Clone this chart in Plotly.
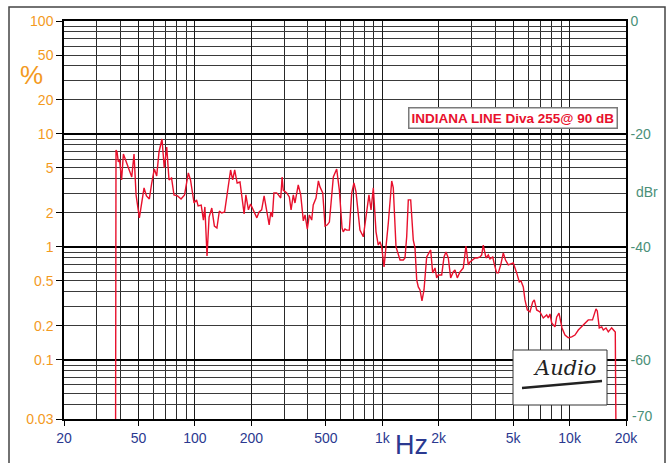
import math
import plotly.graph_objects as go

# ---- data (frequency in Hz, distortion in %) ----
freq_hz = [37.7, 37.9, 38.4, 39.0, 39.6, 40.6, 41.5, 42.9, 44.2, 46.0, 47.3, 48.5, 50.5, 51.8, 53.5,
           55.1, 57.1, 58.8, 60.7, 62.5, 64.3, 66.7, 68.6, 70.7, 72.7, 75.0, 77.3, 80.7, 84.3, 88.0,
           92.2, 94.7, 98.9, 102, 104, 108, 111, 113, 116, 119, 123, 127, 131, 135, 139, 144, 148,
           155, 159, 163, 168, 174, 177, 183, 187, 193, 198, 205, 214, 220, 227, 234, 241, 249, 254,
           259, 264, 273, 279, 287, 292, 296, 309, 319, 326, 335, 342, 349, 356, 367, 379, 387, 398,
           408, 420, 428, 443, 456, 465, 481, 495, 509, 522, 548, 571, 590, 610, 619, 632, 646, 667,
           687, 706, 724, 745, 760, 792, 819, 849, 871, 896, 926, 952, 972, 993, 1022, 1047, 1077,
           1123, 1145, 1184, 1218, 1244, 1295, 1322, 1350, 1377, 1418, 1464, 1495, 1527, 1557, 1590,
           1629, 1670, 1726, 1813, 1858, 1912, 1952, 1991, 2076, 2136, 2188, 2251, 2318, 2393, 2444,
           2514, 2599, 2707, 2798, 2878, 2939, 3038, 3126, 3216, 3324, 3394, 3461, 3577, 3681, 3758,
           3885, 3972, 4081, 4163, 4288, 4426, 4548, 4706, 4835, 5004, 5217, 5388, 5503, 5659, 5778,
           5944, 6144, 6351, 6479, 6672, 6948, 7236, 7546, 7694, 7857, 8024, 8356, 8531, 8776, 8940,
           9107, 9448, 9840, 10260, 10680, 11130, 11830, 12580, 13250, 13830, 14050, 14400, 14840,
           15130, 15640, 16090, 16770, 17260, 17530, 17690]
thd_pct = [0.02, 7.22, 6.93, 5.65, 5.89, 3.92, 6.65, 5.65, 5.00, 4.16, 6.65, 2.89, 1.81, 2.35, 3.33,
           2.83, 2.66, 3.68, 4.90, 4.25, 6.93, 9.03, 5.00, 7.67, 3.92, 4.08, 2.89, 2.83, 2.66, 2.89,
           4.52, 3.92, 2.45, 2.61, 2.31, 2.35, 1.73, 2.26, 0.833, 1.84, 2.21, 1.53, 1.47, 2.08, 2.00,
           2.04, 2.71, 4.80, 3.92, 4.80, 3.68, 3.76, 3.01, 1.96, 2.89, 2.13, 2.40, 2.13, 1.81, 2.04,
           2.13, 2.83, 2.21, 1.57, 2.04, 1.84, 3.01, 3.01, 2.89, 2.71, 4.16, 3.19, 3.01, 2.77, 2.13,
           2.89, 2.45, 3.01, 3.54, 2.89, 1.70, 1.92, 1.44, 1.92, 1.73, 2.35, 2.71, 3.84, 3.40, 3.01,
           1.53, 1.57, 1.66, 4.16, 4.90, 3.19, 1.47, 1.36, 1.44, 1.41, 1.41, 3.01, 3.68, 3.07, 1.84,
           1.41, 1.23, 1.84, 2.89, 2.13, 3.33, 1.36, 1.04, 1.11, 1.00, 0.665, 0.98, 1.63, 3.84, 3.33,
           1.00, 0.85, 0.767, 0.767, 0.799, 1.23, 2.61, 2.61, 1.15, 0.98, 0.51, 0.443, 0.416, 0.333,
           0.416, 0.816, 0.941, 0.589, 0.652, 0.532, 0.565, 0.565, 0.816, 0.903, 0.799, 0.532, 0.601,
           0.626, 0.532, 0.601, 0.652, 1.02, 0.693, 0.737, 0.767, 0.799, 0.799, 0.816, 0.85, 1.04,
           0.799, 0.85, 0.783, 0.816, 0.693, 0.589, 0.589, 0.693, 0.885, 0.767, 0.693, 0.707, 0.722,
           0.589, 0.49, 0.50, 0.443, 0.34, 0.277, 0.266, 0.326, 0.34, 0.277, 0.266, 0.235, 0.25,
           0.235, 0.255, 0.213, 0.196, 0.24, 0.26, 0.226, 0.192, 0.166, 0.157, 0.16, 0.166, 0.184,
           0.204, 0.226, 0.226, 0.283, 0.271, 0.192, 0.196, 0.184, 0.192, 0.177, 0.192, 0.184, 0.177,
           0.02]

x_tick_vals = [20, 50, 100, 200, 500, 1000, 2000, 5000, 10000, 20000]
x_tick_text = ["20", "50", "100", "200", "500", "1k", "2k", "5k", "10k", "20k"]
x_minor_vals = [30, 40, 60, 70, 80, 90, 300, 400, 600, 700, 800, 900,
                3000, 4000, 6000, 7000, 8000, 9000]
y_tick_vals = [0.03, 0.1, 0.2, 0.5, 1, 2, 5, 10, 20, 50, 100]
y_tick_text = ["0.03", "0.1", "0.2", "0.5", "1", "2", "5", "10", "20", "50", "100"]
y_minor_vals = [0.04, 0.05, 0.06, 0.07, 0.08, 0.09,
                0.2, 0.3, 0.4, 0.5, 0.6, 0.7, 0.8, 0.9,
                2, 3, 4, 5, 6, 7, 8, 9,
                20, 30, 40, 50, 60, 70, 80, 90]
dbr_tick_vals = [0, -20, -40, -60]
dbr_tick_text = ["0", "-20", "-40", "-60"]
dbr_bottom_label = -70

legend_text = "INDIANA LINE Diva 255@ 90 dB"

ORANGE = "#F39A1E"
BLUE = "#2B3990"
TEAL = "#4A8F78"
RED = "#E8102C"
FONT = "Arial, Liberation Sans, sans-serif"

y_min, y_max = 0.03, 100
dbr_min = 20 * math.log10(y_min / 100.0)

L, R, T, B = 64, 41, 21, 44
PW, PH = 667 - L - R, 463 - T - B


def px(xp):
    return (xp - L) / PW


def py(yp):
    return (463 - B - yp) / PH


fig = go.Figure()
fig.add_trace(go.Scatter(x=freq_hz, y=thd_pct, mode="lines",
                         line=dict(color=RED, width=1.4), showlegend=False,
                         hoverinfo="skip"))
# invisible trace binding the dBr axis
fig.add_trace(go.Scatter(x=[None], y=[None], yaxis="y2", showlegend=False, hoverinfo="skip"))

fig.update_layout(
    width=667, height=463,
    margin=dict(l=L, r=R, t=T, b=B, autoexpand=False),
    paper_bgcolor="white", plot_bgcolor="white",
    font=dict(family=FONT),
    xaxis=dict(
        type="log", range=[math.log10(20), math.log10(20000)],
        tickvals=x_tick_vals, ticktext=x_tick_text,
        tickfont=dict(color=BLUE, size=14),
        ticks="outside", ticklen=5, tickcolor="black", tickwidth=1,
        showgrid=True, gridcolor="#1a1a1a", gridwidth=1,
        minor=dict(tickvals=x_minor_vals, showgrid=True, gridcolor="#2a2a2a",
                   gridwidth=1, ticks=""),
        showline=True, linecolor="black", linewidth=2, mirror=True,
        zeroline=False, automargin=False,
    ),
    yaxis=dict(
        type="log", range=[math.log10(y_min), math.log10(y_max)],
        tickvals=y_tick_vals, ticktext=y_tick_text,
        tickfont=dict(color=ORANGE, size=14),
        ticks="outside", ticklen=6, tickcolor="black", tickwidth=1,
        showgrid=False,
        minor=dict(tickvals=y_minor_vals, showgrid=True, gridcolor="#3a3a3a",
                   gridwidth=1, ticks=""),
        showline=True, linecolor="black", linewidth=1.5,
        zeroline=False, automargin=False,
    ),
    yaxis2=dict(
        overlaying="y", side="right",
        range=[dbr_min, 0],
        tickvals=dbr_tick_vals, ticktext=dbr_tick_text,
        tickfont=dict(color=TEAL, size=14),
        ticks="", showgrid=True, gridcolor="black", gridwidth=2,
        showline=True, linecolor="black", linewidth=1.5,
        zeroline=False, automargin=False,
    ),
)

# -70 dBr label (kept off the grid so the bottom edge is a single line)
fig.add_annotation(text=str(dbr_bottom_label), xref="paper", yref="y2",
                   x=1.0, y=dbr_bottom_label, xanchor="left", yanchor="middle",
                   xshift=4, showarrow=False,
                   font=dict(color=TEAL, size=14, family=FONT))

# outer frame
fig.add_shape(type="rect", xref="paper", yref="paper",
              x0=px(9), x1=px(665), y0=py(475), y1=py(7),
              line=dict(color="#444444", width=1.5), fillcolor="rgba(0,0,0,0)", layer="above")

# axis titles
fig.add_annotation(text="%", xref="paper", yref="paper", x=px(31), y=py(75),
                   xanchor="center", yanchor="middle", showarrow=False,
                   font=dict(color=ORANGE, size=26, family=FONT))
fig.add_annotation(text="Hz", xref="paper", yref="paper", x=px(411), y=py(445),
                   xanchor="center", yanchor="middle", showarrow=False,
                   font=dict(color=BLUE, size=27, family=FONT))
fig.add_annotation(text="dBr", xref="paper", yref="paper", x=px(647), y=py(192),
                   xanchor="center", yanchor="middle", showarrow=False,
                   font=dict(color=TEAL, size=14, family=FONT))

# legend box
fig.add_annotation(text="<b>" + legend_text + "</b>", xref="paper", yref="paper",
                   x=px(512.5), y=py(117.5), xanchor="center", yanchor="middle",
                   showarrow=False,
                   font=dict(color=RED, size=13.5, family=FONT),
                   bgcolor="white", bordercolor="#7a7a7a", borderwidth=1.5, borderpad=2)

# logo box
fig.add_shape(type="rect", xref="paper", yref="paper",
              x0=px(513), x1=px(607), y0=py(405), y1=py(350),
              line=dict(color="#333333", width=1), fillcolor="white", layer="above")
fig.add_annotation(text="<i>Audio</i>", xref="paper", yref="paper",
                   x=px(565), y=py(368), xanchor="center", yanchor="middle", showarrow=False,
                   font=dict(color="#222222", size=21, family="DejaVu Serif, serif"))
fig.add_shape(type="line", xref="paper", yref="paper",
              x0=px(522), x1=px(602), y0=py(388), y1=py(381),
              line=dict(color="#222222", width=2.5), layer="above")

fig.write_html("out.html",
               config={"displayModeBar": False},
               post_script="document.body.style.margin='0';document.body.style.padding='0';")
